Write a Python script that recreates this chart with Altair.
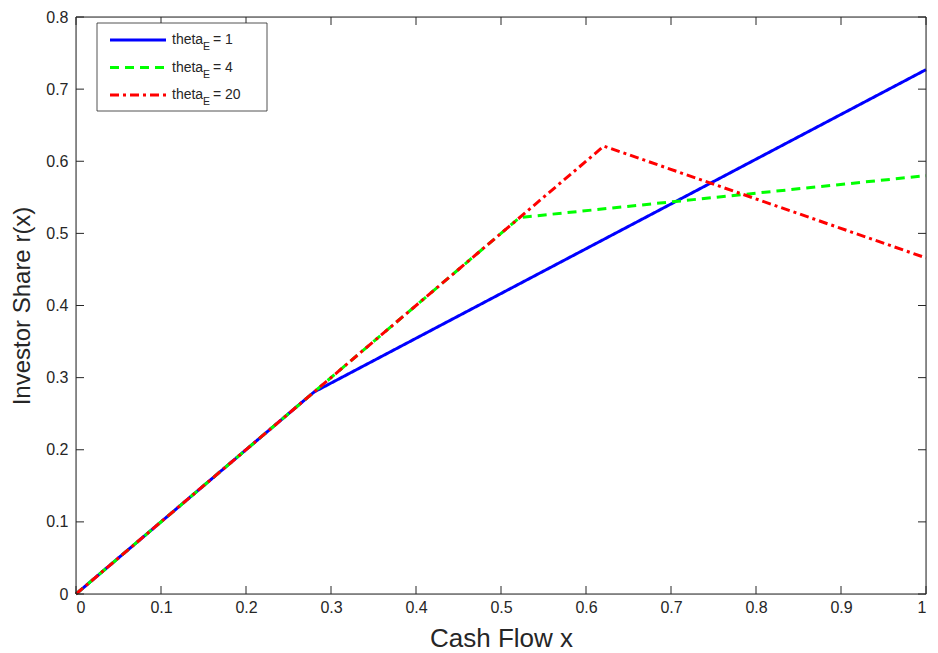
import altair as alt
import pandas as pd

# ---- data ----
x_theta1 = [0.0, 0.28, 1.0]
y_theta1 = [0.0, 0.28, 0.727]
x_theta4 = [0.0, 0.522, 1.0]
y_theta4 = [0.0, 0.522, 0.58]
x_theta20 = [0.0, 0.621, 1.0]
y_theta20 = [0.0, 0.621, 0.466]

series_values = ["1", "4", "20"]
series_colors = ["#0000ff", "#00ff00", "#ff0000"]
series_dash = [[1, 0], [9, 6], [9, 4, 3, 4]]

x_ticks = [0, 0.1, 0.2, 0.3, 0.4, 0.5, 0.6, 0.7, 0.8, 0.9, 1.0]
y_ticks = [0, 0.1, 0.2, 0.3, 0.4, 0.5, 0.6, 0.7, 0.8]

W, H = 850, 577
INK = "#262626"
FONT = "Liberation Sans"

xs = [x_theta1, x_theta4, x_theta20]
ys = [y_theta1, y_theta4, y_theta20]

xscale = alt.Scale(domain=[0, 1], nice=False)
yscale = alt.Scale(domain=[0, 0.8], nice=False)

x_axis = alt.Axis(values=x_ticks, format="~g", grid=False, ticks=False,
                  domain=False, labelFontSize=16, labelColor=INK,
                  labelPadding=5, labelFont=FONT, titleFont=FONT,
                  titleFontSize=26, titleFontWeight="normal",
                  titleColor=INK, titleY=44, titleBaseline="middle")
y_axis = alt.Axis(values=y_ticks, format="~g", grid=False, ticks=False,
                  domain=False, labelFontSize=16, labelColor=INK,
                  labelPadding=8, labelFont=FONT, titleFont=FONT,
                  titleFontSize=24, titleFontWeight="normal",
                  titleColor=INK, titleX=-54, titleBaseline="middle")

def X():
    return alt.X("x:Q", scale=xscale, title="Cash Flow x", axis=x_axis)

def Y():
    return alt.Y("y:Q", scale=yscale, title="Investor Share r(x)", axis=y_axis)

layers = []
for i, (sx, sy) in enumerate(zip(xs, ys)):
    df = pd.DataFrame({"x": sx, "y": sy})
    line = alt.Chart(df).mark_line(color=series_colors[i], strokeWidth=3,
                                   strokeDash=series_dash[i], strokeCap="butt").encode(
        x=X(), y=Y(), order="x:Q")
    layers.append(line)

# frame
one = alt.Data(values=[{}])
frame = alt.Chart(one).mark_rect(fill=None, stroke=INK, strokeWidth=1).encode(
    x=alt.value(0), x2=alt.value(W), y=alt.value(0), y2=alt.value(H))

# inner ticks (MATLAB-style)
xt = pd.DataFrame({"x": x_ticks})
yt = pd.DataFrame({"y": y_ticks})
TL = 8
tick_layers = [
    alt.Chart(xt).mark_rule(color=INK, strokeWidth=1).encode(
        x=X(), y=alt.value(H), y2=alt.value(H - TL)),
    alt.Chart(xt).mark_rule(color=INK, strokeWidth=1).encode(
        x=X(), y=alt.value(0), y2=alt.value(TL)),
    alt.Chart(yt).mark_rule(color=INK, strokeWidth=1).encode(
        y=Y(), x=alt.value(0), x2=alt.value(TL)),
    alt.Chart(yt).mark_rule(color=INK, strokeWidth=1).encode(
        y=Y(), x=alt.value(W), x2=alt.value(W - TL)),
]

# manual legend with subscript
legend_layers = [
    alt.Chart(one).mark_rect(fill="white", stroke=INK, strokeWidth=0.8).encode(
        x=alt.value(21), x2=alt.value(191), y=alt.value(6), y2=alt.value(94))
]
for i, v in enumerate(series_values):
    yy = 23 + i * 27.5
    legend_layers.append(
        alt.Chart(one).mark_rule(color=series_colors[i], strokeWidth=3,
                                 strokeDash=series_dash[i], strokeCap="butt").encode(
            x=alt.value(34), x2=alt.value(90), y=alt.value(yy)))
    legend_layers.append(
        alt.Chart(one).mark_text(text="theta", font=FONT, fontSize=14, color=INK,
                                 align="left", baseline="middle").encode(
            x=alt.value(96), y=alt.value(yy)))
    legend_layers.append(
        alt.Chart(one).mark_text(text="E", font=FONT, fontSize=10.5, color=INK,
                                 align="left", baseline="middle").encode(
            x=alt.value(127), y=alt.value(yy + 7)))
    legend_layers.append(
        alt.Chart(one).mark_text(text="= " + v, font=FONT, fontSize=14, color=INK,
                                 align="left", baseline="middle").encode(
            x=alt.value(137), y=alt.value(yy)))

chart = alt.layer(*layers, frame, *tick_layers, *legend_layers).properties(
    width=W, height=H,
    autosize=alt.AutoSizeParams(type="none"),
    padding={"left": 68, "top": 9, "right": 4, "bottom": 57},
).configure_view(stroke=None).configure(background="white")

chart.save("out.html", embed_options={"renderer": "svg", "actions": False})
